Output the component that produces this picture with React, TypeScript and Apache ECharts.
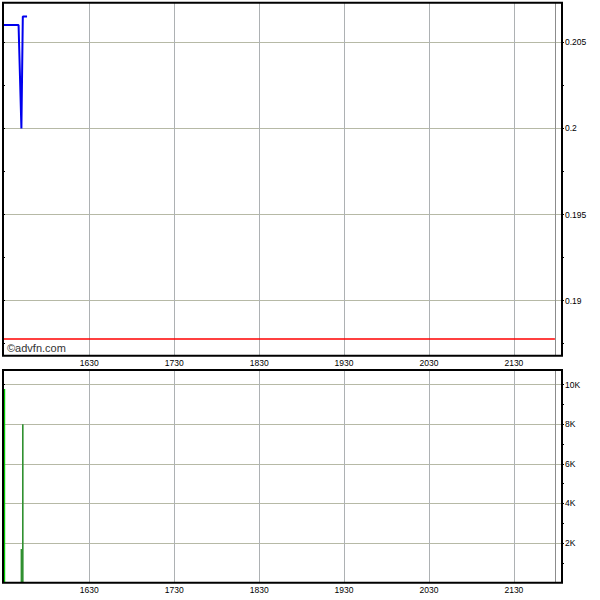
import { useEffect, useRef } from "react";
import * as echarts from "echarts";

// intraday ticks, times are HH:MM
const PRICE_TIMES = ["15:29", "15:29", "15:40", "15:42", "15:43", "15:46"];
const PRICE_VALUES = [0.2, 0.206, 0.206, 0.2, 0.2065, 0.2065];

const VOLUME_TIMES = ["15:30", "15:42", "15:43"];
const VOLUME_VALUES = [9780, 1700, 8000];

const TIME_TICKS = ["16:30", "17:30", "18:30", "19:30", "20:30", "21:30"];
const PRICE_TICKS = [0.19, 0.195, 0.2, 0.205];
const PRICE_MINOR_TICKS = [0.1875, 0.1925, 0.1975, 0.2025];
const VOLUME_TICKS = [2000, 4000, 6000, 8000, 10000];
const VOLUME_MINOR_TICKS = [1000, 3000, 5000, 7000, 9000];

const PREV_CLOSE = 0.1878;
const AXIS_START = "15:29";
const AXIS_END = "22:04";
const SESSION_END = "21:59";

const PRICE_MIN = 0.1868;
const PRICE_MAX = 0.2073;
const VOLUME_MAX = 10740;

const toMin = (t: string) => {
  const [h, m] = t.split(":").map(Number);
  return h * 60 + m;
};
const fmtTime = (v: number) => {
  const h = Math.floor(v / 60);
  const m = Math.round(v % 60);
  return `${h}${m < 10 ? "0" : ""}${m}`;
};
const fmtVol = (v: number) => `${v / 1000}K`;

const FONT = "Liberation Sans, Arial, sans-serif";
const HGRID = "#b6b9a6";
const VGRID = "#adb1b3";

export default function App() {
  const ref = useRef<HTMLDivElement>(null);

  useEffect(() => {
    if (!ref.current) return;
    const chart = echarts.init(ref.current, null, { renderer: "svg" });

    const timeTicks = TIME_TICKS.map(toMin);
    const xMin = toMin(AXIS_START);
    const xMax = toMin(AXIS_END);
    const priceAll = [...PRICE_TICKS, ...PRICE_MINOR_TICKS];
    const volAll = [...VOLUME_TICKS, ...VOLUME_MINOR_TICKS];

    const label = { color: "#000", fontSize: 8.5, fontFamily: FONT };

    const xAxis = (gridIndex: number) => ({
      type: "value",
      gridIndex,
      min: xMin,
      max: xMax,
      axisLine: { show: false },
      axisTick: { show: false, customValues: timeTicks },
      axisLabel: {
        ...label,
        margin: 3,
        customValues: timeTicks,
        formatter: (v: number) => fmtTime(v),
      },
      splitLine: { show: true, lineStyle: { color: VGRID, width: 1 } },
    });

    const yAxes = (
      gridIndex: number,
      min: number,
      max: number,
      major: number[],
      all: number[],
      fmt: (v: number) => string,
    ) => [
      {
        type: "value",
        gridIndex,
        position: "right",
        min,
        max,
        axisLine: { show: false },
        axisTick: {
          show: true,
          inside: false,
          length: 2,
          customValues: all,
          lineStyle: { color: "#000" },
        },
        axisLabel: { ...label, margin: 3, customValues: major, formatter: fmt },
        splitLine: { show: false },
      },
      {
        type: "value",
        gridIndex,
        position: "left",
        min,
        max,
        axisLine: { show: false },
        axisTick: {
          show: true,
          inside: true,
          length: 2,
          customValues: all,
          lineStyle: { color: "#000" },
        },
        axisLabel: { show: false },
        splitLine: { show: false },
      },
      {
        // grid lines only
        type: "value",
        gridIndex,
        position: "right",
        min,
        max,
        axisLine: { show: false },
        axisTick: { show: false, customValues: major },
        axisLabel: { show: false },
        splitLine: { show: true, lineStyle: { color: HGRID, width: 1 } },
      },
    ];

    chart.setOption({
      animation: false,
      backgroundColor: "#fff",
      grid: [
        {
          left: 3,
          right: 38,
          top: 2.7,
          bottom: 244.3,
          show: true,
          borderColor: "#000",
          borderWidth: 2,
          z: 10,
        },
        {
          left: 3,
          right: 38,
          top: 370,
          bottom: 17.3,
          show: true,
          borderColor: "#000",
          borderWidth: 2,
          z: 10,
        },
      ],
      xAxis: [xAxis(0), xAxis(1)],
      yAxis: [
        ...yAxes(0, PRICE_MIN, PRICE_MAX, PRICE_TICKS, priceAll, (v) =>
          String(v),
        ),
        ...yAxes(1, 0, VOLUME_MAX, VOLUME_TICKS, volAll, fmtVol),
      ],
      graphic: [
        {
          type: "text",
          left: 7,
          top: 342,
          style: {
            text: "©advfn.com",
            fill: "#333",
            fontSize: 11,
            fontFamily: FONT,
          },
          z: 20,
        },
      ],
      series: [
        {
          type: "line",
          xAxisIndex: 0,
          yAxisIndex: 0,
          data: PRICE_TIMES.map((t, i) => [toMin(t), PRICE_VALUES[i]]),
          symbol: "none",
          lineStyle: { color: "#0000ee", width: 2 },
          z: 5,
          markLine: {
            silent: true,
            symbol: "none",
            label: { show: false },
            data: [
              [
                {
                  coord: [xMin, PREV_CLOSE],
                  lineStyle: { color: "#ff0000", width: 1.5, type: "solid" },
                },
                { coord: [toMin(SESSION_END), PREV_CLOSE] },
              ],
              {
                xAxis: toMin(SESSION_END),
                lineStyle: { color: "#8c8c8c", width: 1, type: "solid" },
              },
            ],
          },
        },
        {
          type: "bar",
          xAxisIndex: 1,
          yAxisIndex: 3,
          data: VOLUME_TIMES.map((t, i) => [toMin(t), VOLUME_VALUES[i]]),
          barWidth: 1.6,
          itemStyle: {
            color: (p: any) => (p.dataIndex === 0 ? "#00cc00" : "#2f8f2f"),
          },
          markLine: {
            silent: true,
            symbol: "none",
            label: { show: false },
            data: [
              {
                xAxis: toMin(SESSION_END),
                lineStyle: { color: "#8c8c8c", width: 1, type: "solid" },
              },
            ],
          },
        },
      ],
    });

    return () => chart.dispose();
  }, []);

  return (
    <div
      ref={ref}
      style={{ position: "absolute", left: 0, top: 0, width: 600, height: 600 }}
    />
  );
}
